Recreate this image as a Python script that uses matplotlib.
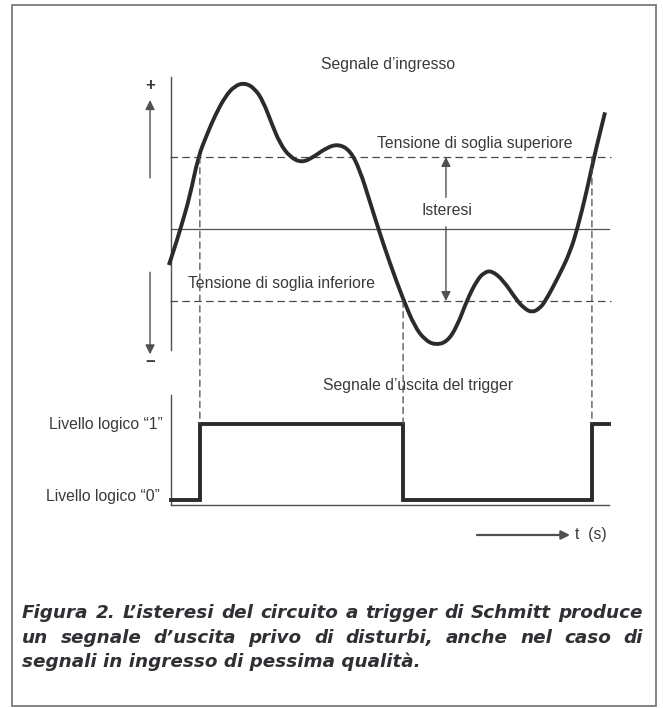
import matplotlib
matplotlib.use("Agg")
import matplotlib.pyplot as plt
from matplotlib.patches import Rectangle, ConnectionPatch, FancyArrowPatch, PathPatch
from matplotlib.path import Path

plt.rcParams['font.family'] = ['Liberation Sans', 'DejaVu Sans']

# ---------------- data ----------------
# input signal (time in arbitrary units, voltage in units of threshold)
t_in = [-0.05, 0.05, 0.21, 0.43, 0.62, 0.82, 1.01, 1.24, 1.46, 1.69, 1.92, 2.11,
        2.30, 2.49, 2.72, 2.99, 3.26, 3.56, 3.83, 4.10, 4.32, 4.55, 4.74, 5.01,
        5.32, 5.58, 5.81, 6.04, 6.31, 6.54, 6.77, 7.00, 7.17, 7.34, 7.60, 7.91,
        8.08, 8.25, 8.42, 8.56, 8.90, 9.13, 9.30, 9.50, 9.68, 9.82, 9.93]
v_in = [-0.50, -0.32, -0.01, 0.45, 1.00, 1.31, 1.58, 1.84, 1.99, 2.03, 1.95, 1.77,
        1.47, 1.19, 1.00, 0.92, 1.00, 1.13, 1.18, 1.09, 0.82, 0.38, 0.01, -0.48,
        -0.99, -1.36, -1.54, -1.61, -1.57, -1.36, -0.99, -0.71, -0.60, -0.58, -0.71, -0.99,
        -1.10, -1.16, -1.11, -1.01, -0.62, -0.32, 0.01, 0.50, 1.00, 1.35, 1.62]
v_upper = 1.0
v_lower = -1.0
t_line_end = 10.07

# trigger output
t_switch = [0.66, 5.31, 9.63]
v_switch = [v_upper, v_lower, v_upper]
t_out = [0.0, 0.66, 5.31, 9.63, 10.02]
level_out = [0, 1, 0, 1, 1]

label_in = "Segnale d’ingresso"
label_out = "Segnale d’uscita del trigger"
label_up = "Tensione di soglia superiore"
label_low = "Tensione di soglia inferiore"
label_hyst = "Isteresi"
label_l1 = "Livello logico “1”"
label_l0 = "Livello logico “0”"
label_t = "t  (s)"
caption_lines = ["Figura 2. L’isteresi del circuito a trigger di Schmitt produce",
                 "un segnale d’uscita privo di disturbi, anche nel caso di",
                 "segnali in ingresso di pessima qualità."]

# ---------------- figure ----------------
W, H, DPI = 663, 708, 100
fig = plt.figure(figsize=(W / DPI, H / DPI), dpi=DPI)
fig.patch.set_facecolor('white')


def fbox(x0, y0, x1, y1):
    return [x0 / W, 1 - y1 / H, (x1 - x0) / W, (y1 - y0) / H]


CURVE = '#2b2b2b'
AXC = '#505050'
DASH = '#4a4a4a'
TXT = '#3a3a3a'
FS = 11.3

ax1 = fig.add_axes(fbox(100, 40, 640, 380))
ax1.set_xlim(-1.625, 10.73)
ax1.set_ylim(-2.097, 2.625)
ax2 = fig.add_axes(fbox(100, 380, 640, 560))
ax2.set_xlim(-1.625, 10.73)
ax2.set_ylim(-0.789, 1.579)
for ax in (ax1, ax2):
    ax.set_axis_off()
    ax.patch.set_alpha(0)

# top panel
ax1.plot([0, 0], [-1.68, 2.11], color=AXC, lw=1.0)
ax1.plot([0, t_line_end - 0.05], [0, 0], color=AXC, lw=0.9)
ax1.hlines([v_upper, v_lower], -0.02, t_line_end, colors=DASH, lw=0.9,
           linestyles=(0, (6, 3.5)))

# smooth rendering of the read points (quadratic B-spline path through midpoints)
pts = list(zip(t_in, v_in))
verts = [pts[0]]
codes = [Path.MOVETO]
verts.append(((pts[0][0] + pts[1][0]) / 2, (pts[0][1] + pts[1][1]) / 2))
codes.append(Path.LINETO)
for i in range(1, len(pts) - 1):
    mid = ((pts[i][0] + pts[i + 1][0]) / 2, (pts[i][1] + pts[i + 1][1]) / 2)
    verts += [pts[i], mid]
    codes += [Path.CURVE3, Path.CURVE3]
verts.append(pts[-1])
codes.append(Path.LINETO)
ax1.add_patch(PathPatch(Path(verts, codes), facecolor='none', edgecolor=CURVE,
                        lw=2.8, joinstyle='round', capstyle='butt', zorder=5))

# dashed verticals from threshold crossings down to the output level "1"
for ts, vs in zip(t_switch, v_switch):
    con = ConnectionPatch(xyA=(ts, vs), coordsA=ax1.transData,
                          xyB=(ts, level_out[1]), coordsB=ax2.transData,
                          color=DASH, lw=0.9, linestyle=(0, (5, 3.5)))
    fig.add_artist(con)


def arrow(ax, tail, tip, lw=1.0, ms=14):
    a = FancyArrowPatch(tail, tip, arrowstyle='-|>', mutation_scale=ms,
                        color=AXC, lw=lw, shrinkA=0, shrinkB=0)
    ax.add_patch(a)


# +/- arrows on the left
arrow(ax1, (-0.48, 0.71), (-0.48, 1.79))
arrow(ax1, (-0.48, -0.60), (-0.48, -1.74))
ax1.text(-0.48, 2.0, "+", ha='center', va='center', fontsize=12, color=TXT,
         fontweight='bold')
ax1.text(-0.48, -1.86, "−", ha='center', va='center', fontsize=12, color=TXT,
         fontweight='bold')

# hysteresis arrows
arrow(ax1, (6.29, 0.44), (6.29, v_upper))
arrow(ax1, (6.29, 0.03), (6.29, v_lower))

ax1.text(4.97, 2.28, label_in, ha='center', va='center', fontsize=FS, color=TXT)
ax1.text(4.71, 1.19, label_up, ha='left', va='center', fontsize=FS, color=TXT)
ax1.text(5.74, 0.26, label_hyst, ha='left', va='center', fontsize=FS, color=TXT)
ax1.text(0.39, -0.75, label_low, ha='left', va='center', fontsize=FS, color=TXT)

# bottom panel
ax2.plot([0, 0], [-0.072, 1.38], color=AXC, lw=1.0)
ax2.plot([0, 10.02], [-0.072, -0.072], color=AXC, lw=1.0)
ax2.step(t_out, level_out, where='post', color=CURVE, lw=2.8, zorder=5,
         solid_joinstyle='miter')
ax2.text(3.48, 1.51, label_out, ha='left', va='center', fontsize=FS, color=TXT)
ax2.text(-0.18, 0.99, label_l1, ha='right', va='center', fontsize=FS, color=TXT)
ax2.text(-0.25, 0.05, label_l0, ha='right', va='center', fontsize=FS, color=TXT)
arrow(ax2, (7.0, -0.46), (9.13, -0.46), lw=1.6, ms=13)
ax2.text(9.24, -0.46, label_t, ha='left', va='center', fontsize=FS, color=TXT)

# frame
fig.add_artist(Rectangle((12 / W, 1 - 706 / H), (656 - 12) / W, (706 - 5) / H,
                         transform=fig.transFigure, fill=False,
                         edgecolor='#7a7a7a', lw=1.3))

# caption (justified)
renderer = fig.canvas.get_renderer()
cap_kw = dict(fontweight='bold', fontstyle='italic', family=['DejaVu Sans'],
              color='#2f3034', va='baseline', ha='left')
x_left, x_right = 22, 643
last_right = 437
baselines = [618, 643, 667]

# choose the size so that the last (unjustified) line ends where it does
probe = fig.text(0, 0, caption_lines[-1], fontsize=10, **cap_kw)
w10 = probe.get_window_extent(renderer).width
probe.remove()
probe = fig.text(0, 0, caption_lines[0], fontsize=10, **cap_kw)
w10_first = probe.get_window_extent(renderer).width
probe.remove()
cap_fs = min(10 * (last_right - x_left) / w10, 10 * (x_right - x_left) / w10_first * 0.99)

for i, (line, yb) in enumerate(zip(caption_lines, baselines)):
    if i == len(caption_lines) - 1:
        fig.text(x_left / W, 1 - yb / H, line, fontsize=cap_fs, **cap_kw)
        continue
    words = line.split(' ')
    arts, widths = [], []
    for w in words:
        a = fig.text(0, 1 - yb / H, w, fontsize=cap_fs, **cap_kw)
        widths.append(a.get_window_extent(renderer).width)
        arts.append(a)
    gap = (x_right - x_left - sum(widths)) / (len(words) - 1)
    x = x_left
    for a, wd in zip(arts, widths):
        a.set_x(x / W)
        x += wd + gap

fig.savefig('out.png', dpi=DPI, facecolor='white')
